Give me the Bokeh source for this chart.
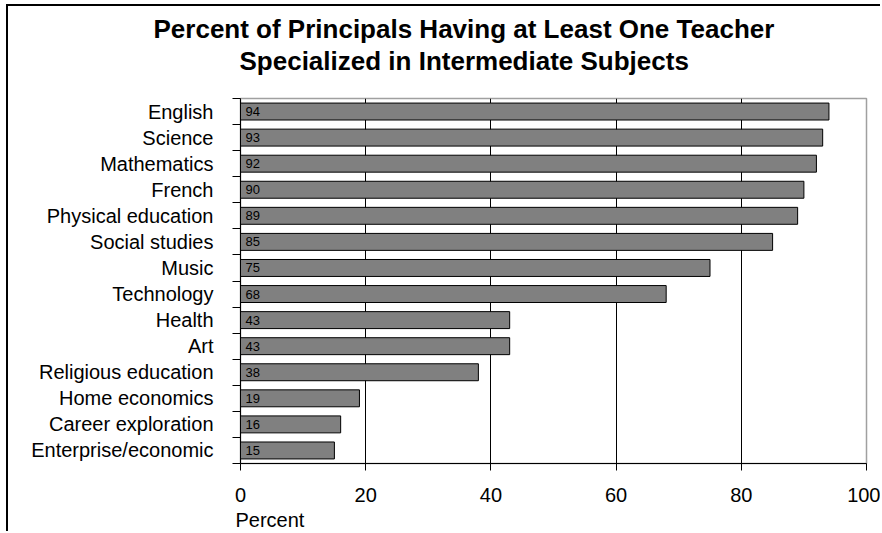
from bokeh.plotting import figure
from bokeh.models import Range1d, FixedTicker, Title, ColumnDataSource
from bokeh.core.properties import value
from bokeh.embed import file_html
from bokeh.resources import INLINE

subjects = ["English", "Science", "Mathematics", "French", "Physical education",
            "Social studies", "Music", "Technology", "Health", "Art",
            "Religious education", "Home economics", "Career exploration",
            "Enterprise/economic"]
percent = [94, 93, 92, 90, 89, 85, 75, 68, 43, 43, 38, 19, 16, 15]
x_ticks = [0, 20, 40, 60, 80, 100]
title_line1 = "Percent of Principals Having at Least One Teacher"
title_line2 = "Specialized in Intermediate Subjects"
x_label = "Percent"

n = len(subjects)
ys = [n - i - 0.5 for i in range(n)]
src = ColumnDataSource(dict(y=ys, v=percent, lab=[str(v) for v in percent], x0=[0] * n))

FONT = "Liberation Sans"
OX, OY = 8, 6  # canvas offset inside the page (border drawn by CSS)

p = figure(width=882 - OX, height=533 - OY, output_backend="svg", toolbar_location=None,
           x_range=Range1d(0, 100), y_range=Range1d(0, n),
           min_border_left=240 - OX, min_border_right=16, min_border_top=98 - OY,
           min_border_bottom=70)
p.styles = {"margin-left": "6px", "margin-top": "4px",
            "border-left": "2px solid black", "border-top": "2px solid black"}

p.hbar(y="y", left=0, right="v", height=0.65, source=src,
       fill_color="#808080", line_color="black", line_width=1)
p.text(x="x0", y="y", text="lab", source=src, x_offset=5, text_baseline="middle",
       text_align="left", text_font=value(FONT), text_font_size="13px", text_color="black")

# axes
xa = p.xaxis[0]
xa.ticker = FixedTicker(ticks=x_ticks, minor_ticks=[])
xa.major_tick_out = 7
xa.major_tick_in = 0
xa.minor_tick_out = 0
xa.major_label_text_font = FONT
xa.major_label_text_font_size = "20px"
xa.major_label_text_color = "black"
xa.major_label_standoff = 17
xa.axis_line_color = "black"
xa.major_tick_line_color = "black"

ya = p.yaxis[0]
ya.ticker = FixedTicker(ticks=ys, minor_ticks=list(range(n + 1)))
ya.major_label_overrides = {y: s for y, s in zip(ys, subjects)}
ya.major_tick_out = 0
ya.major_tick_in = 0
ya.minor_tick_out = 8
ya.minor_tick_in = 0
ya.minor_tick_line_color = "black"
ya.major_label_text_font = FONT
ya.major_label_text_font_size = "20px"
ya.major_label_text_color = "black"
ya.major_label_standoff = 19
ya.axis_line_color = "black"

p.xgrid.ticker = FixedTicker(ticks=[20, 40, 60, 80])
p.xgrid.grid_line_color = "black"
p.ygrid.visible = False
p.outline_line_color = "#a0a0a0"
p.outline_line_width = 1.5

# heading: spacer next to the frame, then line 2, then line 1
spacer = Title(text=" ", text_font_size="2px", standoff=19)
t2 = Title(text=title_line2, align="left", offset=-1, text_font=FONT, text_color="black",
           text_font_size="26px", text_font_style="bold", standoff=0)
t1 = Title(text=title_line1, align="left", offset=-87, text_font=FONT, text_color="black",
           text_font_size="26px", text_font_style="bold", standoff=0)
p.add_layout(spacer, "above")
p.add_layout(t2, "above")
p.add_layout(t1, "above")

tb = Title(text=x_label, align="left", offset=-5, text_font=FONT, text_color="black",
           text_font_size="20px", text_font_style="normal", standoff=4)
p.add_layout(tb, "below")

open("out.html", "w").write(file_html(p, INLINE))
